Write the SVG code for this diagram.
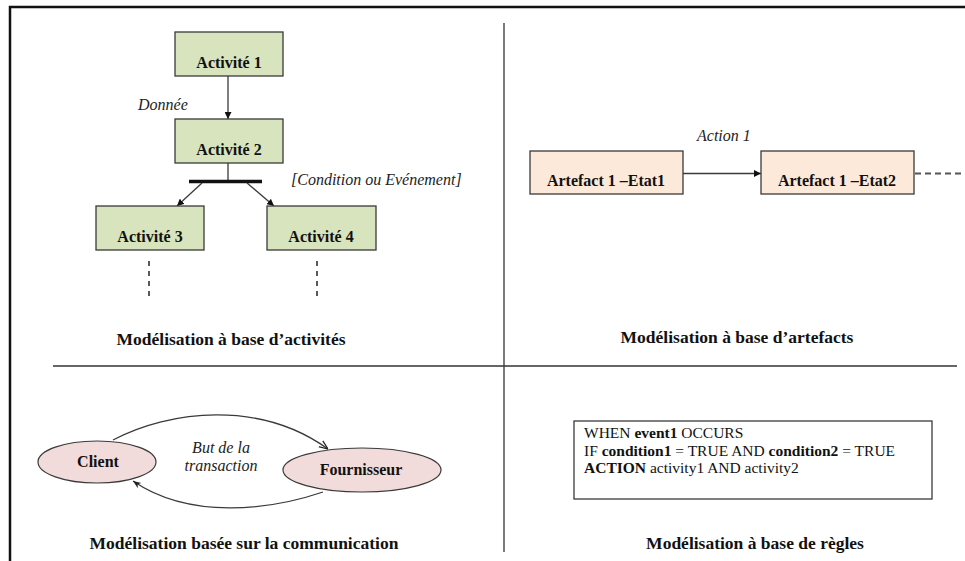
<svg xmlns="http://www.w3.org/2000/svg" width="965" height="561" viewBox="0 0 965 561">
  <style>
    .frame { stroke: #111; stroke-width: 2.5; fill: none; }
    .divider { stroke: #333; stroke-width: 1.3; fill: none; }
    .act { fill: #D7E4BD; stroke: #3a3a3a; stroke-width: 1.3; }
    .art { fill: #FDE9D9; stroke: #3a3a3a; stroke-width: 1.3; }
    .ell { fill: #F2DCDB; stroke: #3a3a3a; stroke-width: 1.2; }
    .rule { fill: #fff; stroke: #3a3a3a; stroke-width: 1.3; }
    .lbl { font-family: "Liberation Serif", "Times New Roman", serif; font-weight: bold; font-size: 16px; fill: #111; text-anchor: middle; }
    .ital { font-family: "Liberation Serif", "Times New Roman", serif; font-style: italic; font-size: 16px; fill: #222; }
    .title { font-family: "Liberation Serif", "Times New Roman", serif; font-weight: bold; font-size: 17.5px; fill: #111; text-anchor: middle; }
    .code { font-family: "Liberation Serif", "Times New Roman", serif; font-size: 15.5px; fill: #111; }
    .code .b { font-weight: bold; }
    .edge { stroke: #3a3a3a; stroke-width: 1.3; fill: none; }
    .dash { stroke: #222; stroke-width: 1.5; stroke-dasharray: 5 5; fill: none; }
    .dash2 { stroke: #555; stroke-width: 2.2; stroke-dasharray: 6 4; fill: none; }
  </style>
  <defs>
    <marker id="tri" viewBox="0 0 10 10" refX="10" refY="5" markerWidth="7" markerHeight="7" markerUnits="userSpaceOnUse" orient="auto">
      <path d="M0,0 L10,5 L0,10 z" fill="#111"/>
    </marker>
    <marker id="vee" viewBox="0 0 10 10" refX="10" refY="5" markerWidth="9" markerHeight="9" markerUnits="userSpaceOnUse" orient="auto">
      <path d="M0,1 L10,5 L0,9" fill="none" stroke="#222" stroke-width="1.4"/>
    </marker>
    <marker id="wedge" viewBox="0 0 10 10" refX="10" refY="5" markerWidth="9" markerHeight="8" markerUnits="userSpaceOnUse" orient="auto">
      <path d="M0,1 L10,5 L0,9 L3,5 z" fill="#222"/>
    </marker>
  </defs>

  <!-- page frame and quadrant dividers -->
  <g id="frame">
    <path class="frame" d="M10,561 V7 H965"/>
    <line class="divider" x1="504" y1="23" x2="504" y2="552"/>
    <line class="divider" x1="53" y1="366" x2="957" y2="366"/>
  </g>

  <!-- connectors -->
  <g id="connectors">
    <line class="edge" x1="228" y1="76" x2="228" y2="119" marker-end="url(#tri)"/>
    <line class="edge" x1="228" y1="163" x2="228" y2="181"/>
    <line x1="189" y1="181.5" x2="262" y2="181.5" stroke="#111" stroke-width="3.5"/>
    <line class="edge" x1="202" y1="183" x2="177" y2="206" marker-end="url(#tri)"/>
    <line class="edge" x1="247" y1="183" x2="274" y2="206" marker-end="url(#tri)"/>
    <line class="dash" x1="149" y1="261" x2="149" y2="300"/>
    <line class="dash" x1="317" y1="261" x2="317" y2="300"/>
    <line class="edge" x1="683" y1="173.5" x2="761" y2="173.5" marker-end="url(#tri)"/>
    <line class="dash2" x1="915" y1="173.5" x2="962" y2="173.5"/>
    <path class="edge" d="M113,440 C170,410 260,400 328,449" marker-end="url(#vee)"/>
    <path class="edge" d="M323,492 C270,510 190,520 133,481" marker-end="url(#wedge)"/>
  </g>

  <!-- activity-based model -->
  <g id="activite1">
    <rect class="act" x="175" y="32" width="108" height="44"/>
    <text class="lbl" x="229" y="68">Activité 1</text>
  </g>
  <g id="activite2">
    <rect class="act" x="175" y="119" width="108" height="44"/>
    <text class="lbl" x="229" y="155">Activité 2</text>
  </g>
  <g id="activite3">
    <rect class="act" x="96" y="206" width="108" height="44"/>
    <text class="lbl" x="150" y="242">Activité 3</text>
  </g>
  <g id="activite4">
    <rect class="act" x="267" y="206" width="109" height="44"/>
    <text class="lbl" x="321" y="242">Activité 4</text>
  </g>
  <text class="ital" x="138" y="110">Donnée</text>
  <text class="ital" x="291" y="185">[Condition ou Evénement]</text>
  <text class="title" x="231" y="345">Modélisation à base d’activités</text>

  <!-- artefact-based model -->
  <g id="artefact-etat1">
    <rect class="art" x="530" y="151" width="153" height="43"/>
    <text class="lbl" x="606" y="186">Artefact 1 –Etat1</text>
  </g>
  <g id="artefact-etat2">
    <rect class="art" x="761" y="151" width="153" height="43"/>
    <text class="lbl" x="837" y="186">Artefact 1 –Etat2</text>
  </g>
  <text class="ital" x="697" y="141">Action 1</text>
  <text class="title" x="737" y="343">Modélisation à base d’artefacts</text>

  <!-- communication-based model -->
  <g id="client">
    <ellipse class="ell" cx="97" cy="462" rx="59" ry="21"/>
    <text class="lbl" x="98" y="467">Client</text>
  </g>
  <g id="fournisseur">
    <ellipse class="ell" cx="362" cy="470" rx="79" ry="22"/>
    <text class="lbl" x="361" y="475">Fournisseur</text>
  </g>
  <text class="ital" x="221" y="453" text-anchor="middle">But de la</text>
  <text class="ital" x="221" y="471" text-anchor="middle">transaction</text>
  <text class="title" x="244" y="549">Modélisation basée sur la communication</text>

  <!-- rule-based model -->
  <g id="regle">
    <rect class="rule" x="574" y="421" width="358" height="78"/>
    <text class="code" x="584" y="438">WHEN <tspan class="b">event1</tspan> OCCURS</text>
    <text class="code" x="584" y="456">IF <tspan class="b">condition1</tspan> = TRUE AND <tspan class="b">condition2</tspan> = TRUE</text>
    <text class="code" x="584" y="473"><tspan class="b">ACTION</tspan> activity1 AND activity2</text>
  </g>
  <text class="title" x="755" y="549">Modélisation à base de règles</text>
</svg>
